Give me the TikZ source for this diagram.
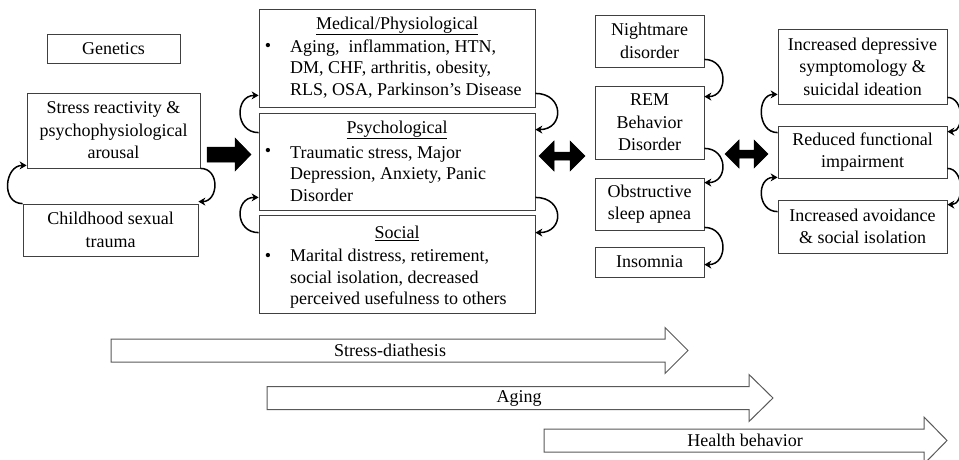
\documentclass[tikz,border=0pt]{standalone}
\usepackage{fontspec}
\setmainfont{Liberation Serif}
\usetikzlibrary{arrows.meta}
\tikzset{
  box/.style={draw=black!75, line width=0.8pt, inner sep=0pt, align=center, fill=white},
  txt/.style={inner sep=0pt, align=left},
  cyc/.style={line width=1.5pt, -{Stealth[length=7pt,width=8pt]}},
  solidarrow/.style={fill=black, draw=black, line width=0.5pt},
  hollowarrow/.style={draw=black!65, line width=1pt, fill=white}
}
\begin{document}
\begin{tikzpicture}[x=1pt,y=-1pt,font=\fontsize{18}{22.5}\selectfont]
\useasboundingbox (0,0) rectangle (959,460);
% left column
\node[box, minimum width=133, minimum height=29] (gen) at (113.5,48.5) {Genetics};
\node[box, minimum width=173, minimum height=75] (stress) at (113.5,130.5) {Stress reactivity \&\\psychophysiological\\arousal};
\node[box, minimum width=175, minimum height=52] (child) at (110.5,230) {Childhood sexual\\trauma};
% middle column
\node[box, minimum width=276, minimum height=98] (med) at (397,58) {};
\node[box, minimum width=276, minimum height=97] (psy) at (397,161.5) {};
\node[box, minimum width=276, minimum height=98] (soc) at (397,264) {};
\node[inner sep=0pt] (medt) at (397,26) {\underline{Medical/Physiological}};
\node[inner sep=0pt] (medb) at (268,47) {•};
\node[txt, anchor=west, font=\fontsize{18}{21.5}\selectfont] (medl) at (290,69) {Aging, \ inflammation, HTN,\\DM, CHF, arthritis, obesity,\\RLS, OSA, Parkinson’s Disease};
\node[inner sep=0pt] (psyt) at (397,130) {\underline{Psychological}};
\node[inner sep=0pt] (psyb) at (268,152) {•};
\node[txt, anchor=west, font=\fontsize{18}{21.5}\selectfont] (psyl) at (290,174) {Traumatic stress, Major\\Depression, Anxiety, Panic\\Disorder};
\node[inner sep=0pt] (soct) at (397,233) {\underline{Social}};
\node[inner sep=0pt] (socb) at (268,257) {•};
\node[txt, anchor=west, font=\fontsize{18}{21.5}\selectfont] (socl) at (290,279) {Marital distress, retirement,\\social isolation, decreased\\perceived usefulness to others};
% sleep column
\node[box, minimum width=109, minimum height=52] (nm) at (649.5,41) {Nightmare\\disorder};
\node[box, minimum width=109, minimum height=73] (rem) at (649.5,122.5) {REM\\Behavior\\Disorder};
\node[box, minimum width=109, minimum height=52] (osa) at (649.5,204) {Obstructive\\sleep apnea};
\node[box, minimum width=109, minimum height=30] (ins) at (649.5,262) {Insomnia};
% right column
\node[box, minimum width=169, minimum height=75] (dep) at (862.5,66.5) {Increased depressive\\symptomology \&\\suicidal ideation};
\node[box, minimum width=169, minimum height=52] (red) at (862.5,152) {Reduced functional\\impairment};
\node[box, minimum width=169, minimum height=53] (avo) at (862.5,226.5) {Increased avoidance\\\& social isolation};
% cycle arcs
\draw[cyc] (child.north west) .. controls +(-22,0) and +(-22,0) .. ([yshift=3pt]stress.south west);
\draw[cyc] (stress.south east) .. controls +(20,0) and +(20,0) .. ([yshift=2pt]child.north east);
\draw[cyc] ([yshift=-20pt]psy.north west) .. controls +(-24,0) and +(-24,0) .. ([yshift=12pt]med.south west);
\draw[cyc] ([yshift=14pt]med.south east) .. controls +(29,0) and +(29,0) .. ([yshift=-17pt]psy.north east);
\draw[cyc] ([yshift=-18pt]soc.north west) .. controls +(-24,0) and +(-24,0) .. ([yshift=13pt]psy.south west);
\draw[cyc] ([yshift=13pt]psy.south east) .. controls +(29,0) and +(29,0) .. ([yshift=-18pt]soc.north east);
\draw[cyc] ([yshift=8pt]nm.south east) .. controls +(24,0) and +(24,0) .. ([yshift=-11pt]rem.north east);
\draw[cyc] ([yshift=11pt]rem.south east) .. controls +(24,0) and +(24,0) .. ([yshift=-5pt]osa.north east);
\draw[cyc] ([yshift=3pt]osa.south east) .. controls +(24,0) and +(24,0) .. ([yshift=-18pt]ins.north east);
\draw[cyc] ([yshift=-7pt]red.north west) .. controls +(-21,0) and +(-21,0) .. ([yshift=10pt]dep.south west);
\draw[cyc] ([yshift=-12pt]avo.north west) .. controls +(-21,0) and +(-21,0) .. ([yshift=1pt]red.south west);
\draw[cyc] ([yshift=7pt]dep.south east) .. controls +(17,0) and +(17,0) .. ([yshift=-6pt]red.north east);
\draw[cyc] ([yshift=10pt]red.south east) .. controls +(17,0) and +(17,0) .. ([yshift=-5pt]avo.north east);
% block arrows
\draw[solidarrow] (207,147) -- (235,147) -- (235,138) -- (251,154.5) -- (235,171) -- (235,162) -- (207,162) -- cycle;
\draw[solidarrow] (539,156) -- (554,141) -- (554,152) -- (570,152) -- (570,141) -- (585,156) -- (570,171) -- (570,160) -- (554,160) -- (554,171) -- cycle;
\draw[solidarrow] (725,154) -- (739,140) -- (739,150) -- (754,150) -- (754,140) -- (768,154) -- (754,168) -- (754,158) -- (739,158) -- (739,168) -- cycle;
% bottom arrows
\draw[hollowarrow] (111,339) -- (665,339) -- (665,327.5) -- (688,350.5) -- (665,373.5) -- (665,362) -- (111,362) -- cycle;
\node[inner sep=0pt] (sd) at (390,350.5) {Stress-diathesis};
\draw[hollowarrow] (267,386.5) -- (749,386.5) -- (749,374.5) -- (773,398) -- (749,421.5) -- (749,409.5) -- (267,409.5) -- cycle;
\node[inner sep=0pt] (ag) at (519,398) {Aging};
\draw[hollowarrow] (544,429) -- (924,429) -- (924,417) -- (947,440.5) -- (924,464) -- (924,452) -- (544,452) -- cycle;
\node[inner sep=0pt] (hb) at (745,440.5) {Health behavior};
\end{tikzpicture}
\end{document}
